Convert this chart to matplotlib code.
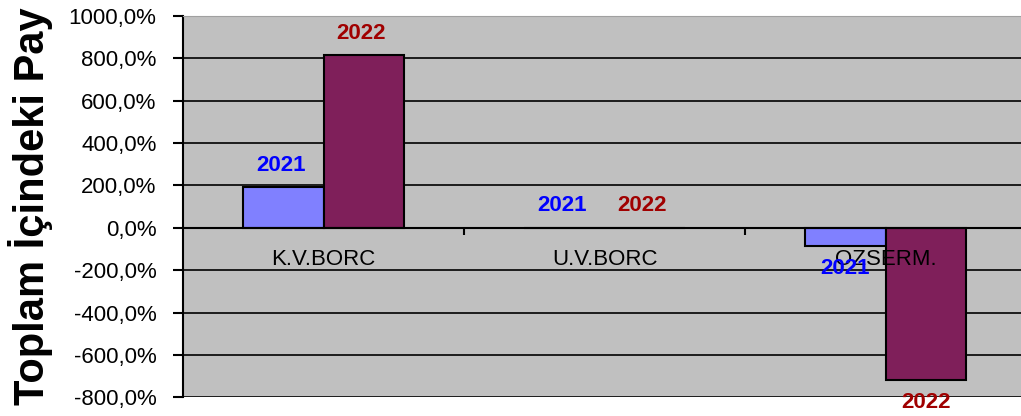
import numpy as np
import matplotlib.pyplot as plt

plt.rcParams['font.family'] = ['Liberation Sans', 'DejaVu Sans']

# data
categories = ['K.V.BORC', 'U.V.BORC', 'OZSERM.']
years = ['2021', '2022']
v2021 = [190, 0, -88]
v2022 = [813, 0, -718]
yticks = [-800, -600, -400, -200, 0, 200, 400, 600, 800, 1000]

fig = plt.figure(figsize=(10.21, 4.16), dpi=100)
ax = fig.add_axes([183/1021, 18.7/416, 843/1021, 381.6/416])
ax.set_facecolor('#c0c0c0')

x = np.arange(len(categories))
w = 0.285
b1 = ax.bar(x - w/2, v2021, w, color='#8080ff', edgecolor='black', linewidth=1.5, zorder=3)
b2 = ax.bar(x + w/2, v2022, w, color='#7f1f5a', edgecolor='black', linewidth=1.5, zorder=3)

# data labels: year name above or below the bar
for bars, vals, col, name in [(b1, v2021, '#0000ff', years[0]), (b2, v2022, '#a00000', years[1])]:
    for r, v in zip(bars, vals):
        off = 16 if v >= 0 else -16
        ax.annotate(name, (r.get_x() + r.get_width()/2, v),
                    xytext=(-2 if v >= 0 else 0, off), textcoords='offset points',
                    ha='center', va='center', fontsize=16, fontweight='bold',
                    color=col, zorder=5, annotation_clip=False)

ax.set_xlim(-0.5, 2.5)
ax.set_ylim(-800, 1000)
ax.set_yticks(yticks)
ax.set_yticklabels([f'{t},0%' for t in yticks])
ax.yaxis.grid(True, color='black', linewidth=1.2, zorder=1)
ax.set_axisbelow(True)

ax.set_xticks(x)
ax.set_xticklabels(categories)
ax.set_xticks([0.5, 1.5], minor=True)
ax.tick_params(axis='x', which='major', length=0, pad=15, labelsize=16)
ax.tick_params(axis='x', which='minor', length=5, width=1.5, direction='out')
ax.tick_params(axis='y', length=7, width=1.5, direction='out', pad=12, labelsize=16)
# category names are drawn on top of the bars
ax.xaxis.set_zorder(4)

ax.spines['bottom'].set_position(('data', 0))
ax.spines['bottom'].set_linewidth(1.5)
ax.spines['bottom'].set_zorder(4)
ax.spines['left'].set_linewidth(1.5)
ax.spines['top'].set_color('#a0a0a0')
ax.spines['right'].set_visible(False)

fig.text(30/1021, 0.505, 'Toplam İçindeki Pay', rotation=90, ha='center', va='center',
         fontsize=30, fontweight='bold')

fig.savefig('out.png', dpi=100)
